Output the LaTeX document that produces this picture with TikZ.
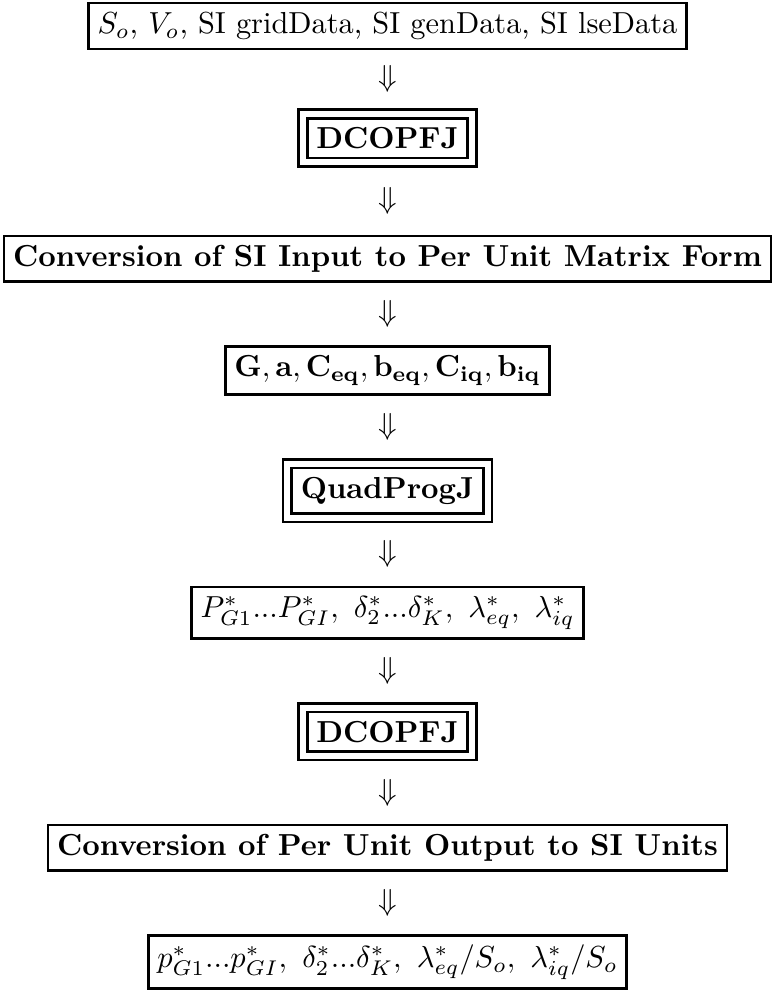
\documentclass[tikz,border=0pt]{standalone}
\usetikzlibrary{positioning,fit,calc}
\tikzset{
  fbx/.style={draw, line width=0.85pt, inner sep=3pt, outer sep=0pt},
  dblframe/.style={draw, line width=0.85pt, inner sep=2.8pt, outer sep=0pt},
  darrow/.style={inner sep=0pt, outer sep=0pt},
}
\begin{document}
\begin{tikzpicture}[node distance=21.4pt]
\node[fbx] (top) {$S_o$, $V_o$, SI gridData, SI genData, SI lseData};
\node[fbx, below=22.8pt of top] (d1in) {\textbf{DCOPFJ}};
\node[dblframe, fit=(d1in)] (d1) {};
\node[fbx, below=22.8pt of d1] (conv) {\textbf{Conversion of SI Input to Per Unit Matrix Form}};
\node[fbx, below=of conv] (mat) {$\mathbf{G}, \mathbf{a}, \mathbf{C_{eq}}, \mathbf{b_{eq}}, \mathbf{C_{iq}}, \mathbf{b_{iq}}$};
\node[fbx, below=24.2pt of mat] (qpin) {\textbf{QuadProgJ}};
\node[dblframe, fit=(qpin)] (qp) {};
\node[fbx, below=of qp] (sol) {$P^*_{G1}...P^*_{GI},\ \delta^*_2...\delta^*_K,\ \lambda^*_{eq},\ \lambda^*_{iq}$};
\node[fbx, below=24.2pt of sol] (d2in) {\textbf{DCOPFJ}};
\node[dblframe, fit=(d2in)] (d2) {};
\node[fbx, below=of d2] (cout) {\textbf{Conversion of Per Unit Output to SI Units}};
\node[fbx, below=of cout] (fin) {$p^*_{G1}...p^*_{GI},\ \delta^*_2...\delta^*_K,\ \lambda^*_{eq}/S_o,\ \lambda^*_{iq}/S_o$};
\foreach \a/\b in {top/d1, d1/conv, conv/mat, mat/qp, qp/sol, sol/d2, d2/cout, cout/fin}
  \path (\a.south) -- node[darrow] {$\Downarrow$} (\b.north);
\pgfresetboundingbox
\useasboundingbox let \p1=(conv.west), \p2=(conv.east), \p3=(top.north), \n1={\x2-\x1+2.6pt} in
  ({\x1-1.3pt},{\y3+1pt}) rectangle ({\x2+1.3pt},{\y3+1pt-1.27871*\n1});
\end{tikzpicture}
\end{document}
